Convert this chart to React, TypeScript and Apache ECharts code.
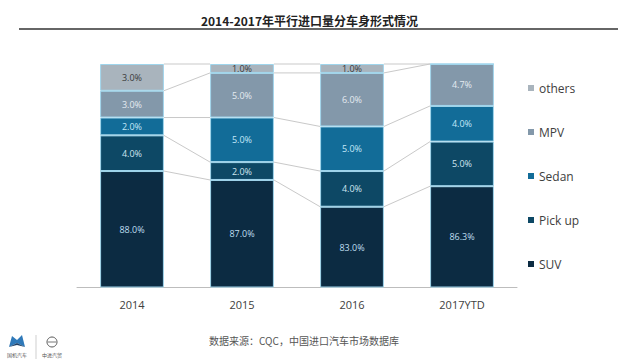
import React, { useEffect, useRef } from "react";
import * as echarts from "echarts";

const categories = ["2014", "2015", "2016", "2017YTD"];
const suv = [88.0, 87.0, 83.0, 86.3];
const pickup = [4.0, 2.0, 4.0, 5.0];
const sedan = [2.0, 5.0, 5.0, 4.0];
const mpv = [3.0, 5.0, 6.0, 4.7];
const others = [3.0, 1.0, 1.0, 0];

const seriesNames = ["SUV", "Pick up", "Sedan", "MPV", "others"];
const legendOrder = ["others", "MPV", "Sedan", "Pick up", "SUV"];
const colors = ["#0c2b42", "#0d4865", "#126c98", "#8398aa", "#a9b4bd"];
const labelColors = ["#bfdff0", "#cfe6f1", "#c3e8f8", "#e3ebf1", "#3a3a3a"];

const TITLE = "2014-2017年平行进口量分车身形式情况";
const SOURCE = "数据来源：CQC，中国进口汽车市场数据库";

export default function App() {
  const ref = useRef<HTMLDivElement>(null);

  useEffect(() => {
    if (!ref.current) return;
    const chart = echarts.init(ref.current, null, { renderer: "svg" });

    const upper = [pickup, sedan, mpv, others];
    // SUV fills the bar below the other segments (bars are drawn to 100%)
    const suvPlot = categories.map(
      (_, i) => 100 - upper.reduce((s, arr) => s + arr[i], 0)
    );
    const plotVals = [suvPlot, pickup, sedan, mpv, others];
    const labelVals = [suv, pickup, sedan, mpv, others];

    // cumulative tops for series lines
    const tops: number[][] = [];
    let acc = categories.map(() => 0);
    plotVals.forEach((arr) => {
      acc = acc.map((a, i) => a + arr[i]);
      tops.push(acc.slice());
    });
    const lineData: number[][] = [];
    tops.forEach((t) => {
      for (let i = 0; i < categories.length - 1; i++) {
        lineData.push([i, t[i], t[i + 1]]);
      }
    });

    const barRatio = 0.58;

    const barSeries = seriesNames.map((name, s) => ({
      name,
      type: "bar",
      stack: "total",
      barWidth: "58%",
      data: plotVals[s],
      itemStyle: { color: colors[s], borderColor: "#9fd5ec", borderWidth: 1 },
      label: {
        show: true,
        position: "inside",
        fontSize: 9,
        fontFamily: "Open Sans",
        color: labelColors[s],
        formatter: (p: any) => {
          const v = labelVals[s][p.dataIndex];
          return v > 0 ? v.toFixed(1) + "%" : "";
        },
      },
      emphasis: { disabled: true },
      z: 3,
    }));

    chart.setOption({
      animation: false,
      grid: { left: 77, right: 102, top: 64, bottom: 76 },
      title: {
        text: TITLE,
        left: "center",
        top: 9,
        textStyle: {
          fontSize: 12,
          fontWeight: "bold",
          color: "#222",
          fontFamily: "Noto Sans CJK SC",
        },
      },
      legend: {
        data: legendOrder,
        orient: "vertical",
        left: 523,
        top: 76,
        itemWidth: 6,
        itemHeight: 6,
        itemGap: 30,
        icon: "rect",
        itemStyle: { borderWidth: 0 },
        textStyle: {
          fontSize: 12,
          color: "#404040",
          fontFamily: "Open Sans",
          lineHeight: 14,
        },
        selectedMode: false,
      },
      xAxis: {
        type: "category",
        data: categories,
        axisLine: { lineStyle: { color: "#bdbdbd", width: 1 } },
        axisTick: { show: false },
        axisLabel: {
          margin: 12,
          fontSize: 11,
          color: "#404040",
          fontFamily: "Open Sans",
        },
      },
      yAxis: {
        type: "value",
        min: 75,
        max: 100,
        show: false,
        splitLine: { show: false },
      },
      graphic: [
        {
          type: "line",
          shape: { x1: 19, y1: 29, x2: 618, y2: 29 },
          style: { stroke: "#333", lineWidth: 1.5 },
        },
        {
          type: "text",
          x: 304,
          y: 340,
          style: {
            text: SOURCE,
            fontSize: 10,
            fill: "#555",
            fontFamily: "Noto Sans CJK SC",
            align: "center",
            verticalAlign: "middle",
          },
        },
        {
          type: "polygon",
          shape: { points: [[9, 347], [12, 336], [17, 340], [22, 335], [25, 347], [17, 343]] },
          style: { fill: "#2f79b9" },
        },
        {
          type: "polygon",
          shape: { points: [[9, 347], [17, 343], [25, 347], [17, 345]] },
          style: { fill: "#1d3f66" },
        },
        {
          type: "text",
          x: 17,
          y: 354,
          style: { text: "国机汽车", fontSize: 5, fill: "#555", align: "center", verticalAlign: "middle", fontFamily: "Noto Sans CJK SC" },
        },
        {
          type: "line",
          shape: { x1: 36, y1: 335, x2: 36, y2: 359 },
          style: { stroke: "#cfcfcf", lineWidth: 1 },
        },
        {
          type: "circle",
          shape: { cx: 52, cy: 342, r: 5 },
          style: { fill: "none", stroke: "#555", lineWidth: 1 },
        },
        {
          type: "line",
          shape: { x1: 48, y1: 342, x2: 56, y2: 342 },
          style: { stroke: "#555", lineWidth: 0.8 },
        },
        {
          type: "text",
          x: 52,
          y: 354,
          style: { text: "中进汽贸", fontSize: 5, fill: "#555", align: "center", verticalAlign: "middle", fontFamily: "Noto Sans CJK SC" },
        },
      ],
      series: [
        ...barSeries,
        {
          type: "custom",
          data: lineData,
          silent: true,
          z: 2,
          renderItem: (params: any, api: any) => {
            const i = api.value(0);
            const p1 = api.coord([i, api.value(1)]);
            const p2 = api.coord([i + 1, api.value(2)]);
            const half = (api.size([1, 0])[0] * barRatio) / 2;
            return {
              type: "line",
              shape: { x1: p1[0] + half, y1: p1[1], x2: p2[0] - half, y2: p2[1] },
              style: { stroke: "#c9c9c9", lineWidth: 1 },
            };
          },
        },
      ],
    });

    return () => chart.dispose();
  }, []);

  return (
    <div
      ref={ref}
      style={{ position: "fixed", left: 0, top: 0, width: 619, height: 363, background: "#fff" }}
    />
  );
}
